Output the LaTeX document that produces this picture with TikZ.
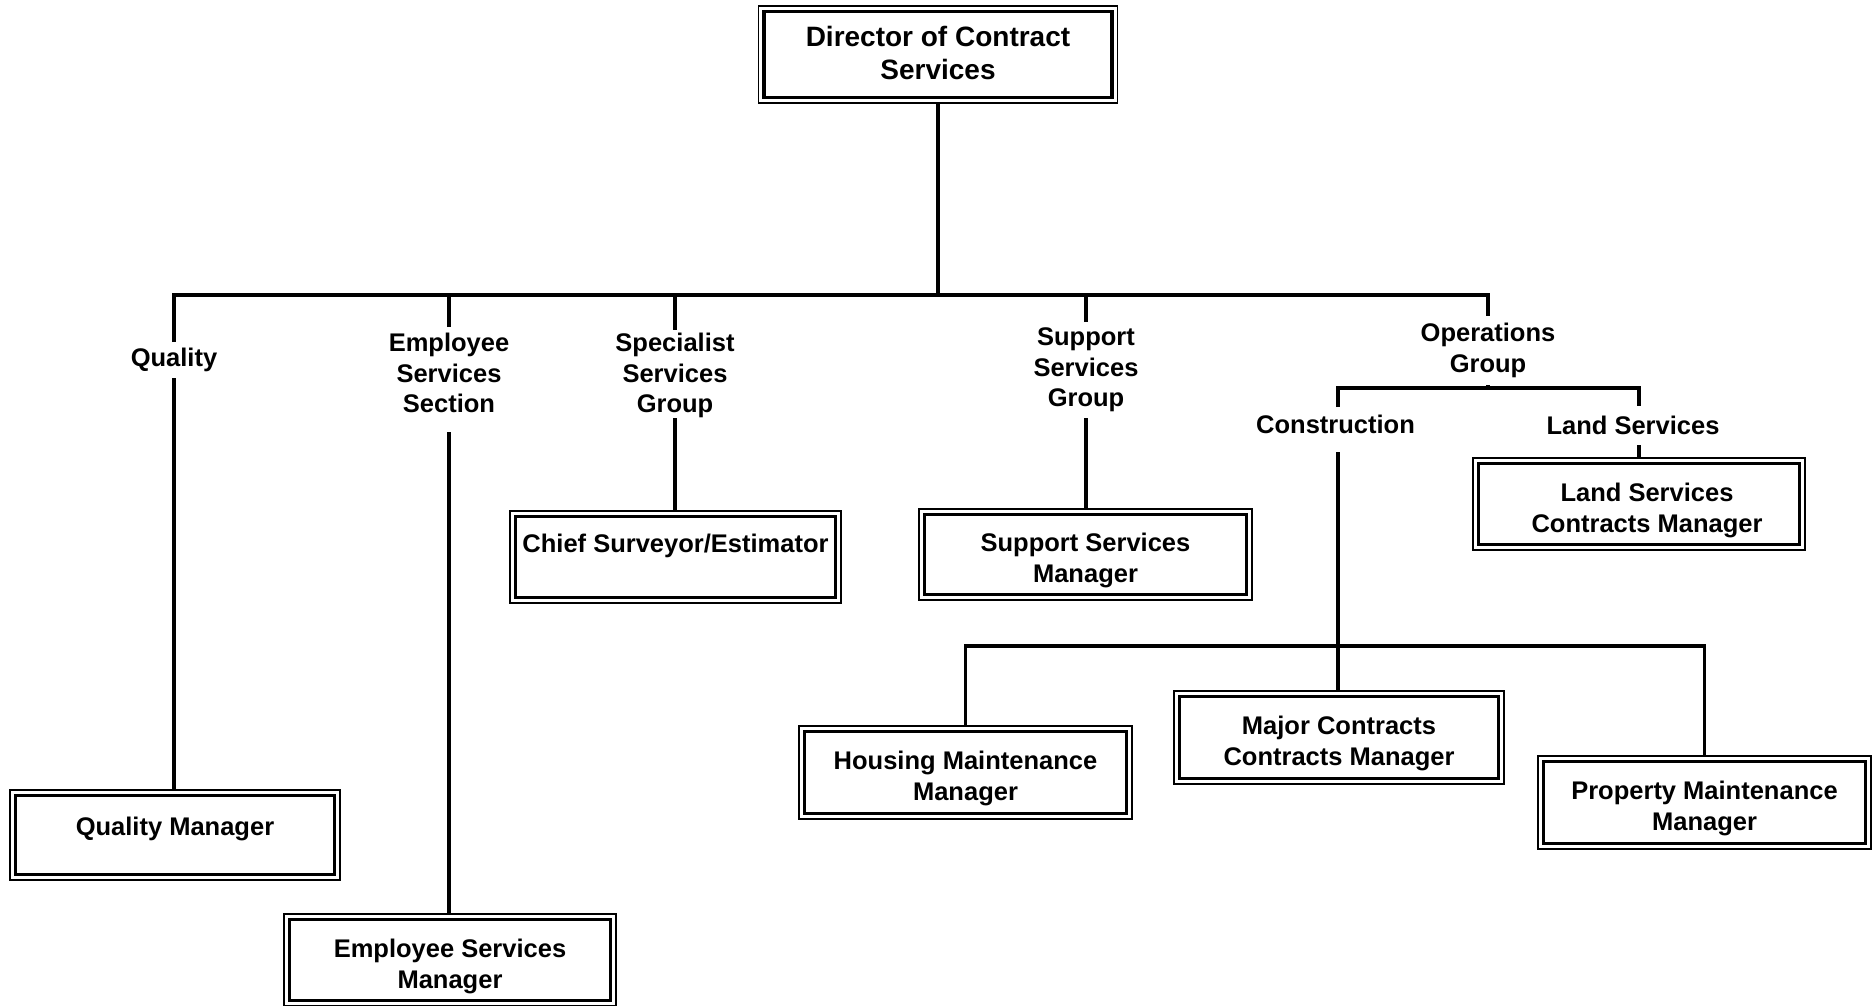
\documentclass[tikz,border=0pt]{standalone}
\usepackage{fontspec}
\setmainfont{Liberation Sans}
\newcommand{\dn}{\rule{0pt}{30.6pt}}
\begin{document}
\begin{tikzpicture}[x=1pt,y=-1pt,
  box/.style={draw, line width=1.4pt, inner sep=0pt, outer sep=0pt, align=center,
    font=\bfseries\fontsize{25.5}{31}\selectfont},
  lbl/.style={inner sep=0pt, outer sep=0pt, align=center,
    font=\bfseries\fontsize{25.5}{30.5}\selectfont},
  conn/.style={line width=3.2pt},
  innerbox/.style={line width=3.6pt},
]
\useasboundingbox (0,0) rectangle (1872,1005);

% boxes
\node[box, minimum width=359pt, minimum height=97pt, font=\bfseries\fontsize{28}{33}\selectfont] (dir) at (938,54.5) {Director of Contract\\Services\rule[-4pt]{0pt}{0pt}};
\node[box, minimum width=330pt, minimum height=90pt, text height=18.6pt, text depth=18pt] (qm) at (175,835) {Quality Manager};
\node[box, minimum width=332pt, minimum height=92pt] (esm) at (450,960) {\dn Employee Services\\Manager};
\node[box, minimum width=331pt, minimum height=92pt, text height=18.6pt, text depth=28pt] (chief) at (675.5,557) {Chief Surveyor/Estimator};
\node[box, minimum width=333pt, minimum height=91pt] (ssm) at (1085.5,554.5) {\dn Support Services\\Manager};
\node[box, minimum width=332pt, minimum height=92pt] (lscm) at (1639,504) {\dn\hspace*{16pt}Land Services\\\hspace*{16pt}Contracts Manager};
\node[box, minimum width=333pt, minimum height=93pt] (hmm) at (965.5,772.5) {\dn Housing Maintenance\\Manager};
\node[box, minimum width=330pt, minimum height=93pt] (mcm) at (1339,737.5) {\dn Major Contracts\\Contracts Manager};
\node[box, minimum width=333pt, minimum height=93pt] (pmm) at (1704.5,802.5) {\dn Property Maintenance\\Manager};

\foreach \n in {dir,qm,esm,chief,ssm,lscm,hmm,mcm,pmm}
  \draw[innerbox] ([shift={(5.5,5.5)}]\n.north west) rectangle ([shift={(-5.5,-5.5)}]\n.south east);

% labels
\node[lbl, minimum height=36pt] (ql) at (174,360) {Quality};
\node[lbl, minimum height=105pt] (esl) at (449,379.5) {Employee\\Services\\Section\rule[-13pt]{0pt}{0pt}};
\node[lbl, minimum height=88pt] (spl) at (675,374) {\rule{0pt}{22pt}Specialist\\Services\\Group};
\node[lbl, minimum height=96pt] (sul) at (1086,370) {Support\\Services\\Group};
\node[lbl, minimum height=69pt] (ops) at (1488,350.5) {Operations\\Group};
\node[lbl, minimum height=45pt] (cons) at (1338,429.5) {\raisebox{11pt}{\hspace*{-5pt}Construction}};
\node[lbl, minimum height=39pt] (land) at (1639,425.5) {\hspace*{-12pt}Land Services};

% junction coordinates
\coordinate (bus) at (938,295);
\coordinate (sub) at (1488,388);
\coordinate (bus2) at (1338,646);

% connectors
\draw[conn] (dir) -- (dir |- bus);
\draw[conn] (ql) -- (ql |- bus) -- (ops |- bus) -- (ops);
\draw[conn] (esl) -- (esl |- bus);
\draw[conn] (spl) -- (spl |- bus);
\draw[conn] (sul) -- (sul |- bus);
\draw[conn] (ql) -- (ql |- qm.north);
\draw[conn] (esl) -- (esl |- esm.north);
\draw[conn] (spl) -- (spl |- chief.north);
\draw[conn] (sul) -- (sul |- ssm.north);
\draw[conn] (ops) -- (ops |- sub);
\draw[conn] (cons) -- (cons |- sub) -- (land |- sub) -- (land);
\draw[conn] (land) -- (land |- lscm.north);
\draw[conn] (cons) -- (cons |- mcm.north);
\draw[conn] (hmm.north) -- (hmm.north |- bus2) -- (pmm.north |- bus2) -- (pmm.north);
\end{tikzpicture}
\end{document}
